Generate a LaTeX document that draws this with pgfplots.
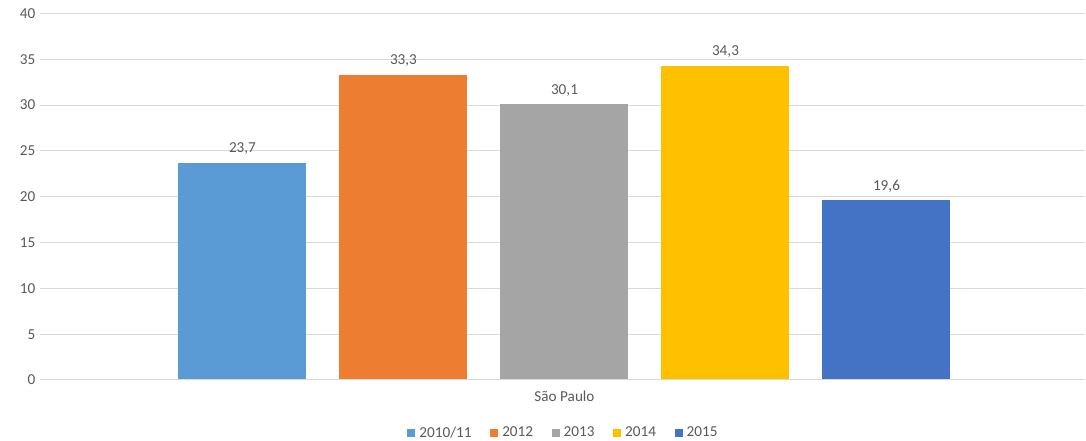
\documentclass[border=0pt]{standalone}
\usepackage{pgfplots}
\pgfplotsset{compat=1.18}
\usepackage{fontspec}
\setmainfont{Carlito}
\definecolor{c1}{HTML}{5B9BD5}
\definecolor{c2}{HTML}{ED7D31}
\definecolor{c3}{HTML}{A5A5A5}
\definecolor{c4}{HTML}{FFC000}
\definecolor{c5}{HTML}{4472C4}
\definecolor{txt}{HTML}{595959}
\definecolor{grd}{HTML}{D9D9D9}
\begin{document}
\begin{tikzpicture}
\useasboundingbox (0,0) rectangle (814.5pt,330.75pt);
\begin{axis}[
  at={(30pt,45.75pt)}, anchor=south west,
  scale only axis, width=783.75pt, height=274.9pt,
  xmin=-1.0038, xmax=0.9962, ymin=0, ymax=40,
  ytick={0,5,...,40},
  xtick={0}, xticklabels={São Paulo},
  ymajorgrids, major grid style={grd, line width=0.75pt},
  axis line style={draw=none},
  major tick length=0pt,
  tick label style={font=\fontsize{11.4}{13}\selectfont, text=txt},
  /pgf/number format/assume math mode=true,
  yticklabel style={xshift=0pt},
  xticklabel style={yshift=-5pt},
  ybar=24.75pt, bar width=96pt,
  nodes near coords,
  nodes near coords style={font=\fontsize{11.4}{13}\selectfont, text=txt, yshift=2.5pt, /pgf/number format/.cd, fixed, fixed zerofill, precision=1, use comma, assume math mode=true},
  legend columns=5,
  legend style={draw=none, at={(0.5,-0.112)}, anchor=north, font=\fontsize{11.4}{13}\selectfont, text=txt,
    nodes={inner xsep=0pt},
    /tikz/every odd column/.append style={column sep=3pt},
    /tikz/every even column/.append style={column sep=14pt}},
  legend image code/.code={\fill[#1] (0pt,-3pt) rectangle (6pt,3pt);},
  every axis plot/.append style={draw=none},
  clip=false,
]
\addplot[fill=c1] coordinates {(0,23.7)};
\addplot[fill=c2] coordinates {(0,33.3)};
\addplot[fill=c3] coordinates {(0,30.1)};
\addplot[fill=c4] coordinates {(0,34.3)};
\addplot[fill=c5] coordinates {(0,19.6)};
\legend{2010/11,2012,2013,2014,2015}
\draw[grd, line width=0.75pt] (rel axis cs:0,0) -- (rel axis cs:1,0);
\end{axis}
\end{tikzpicture}
\end{document}
